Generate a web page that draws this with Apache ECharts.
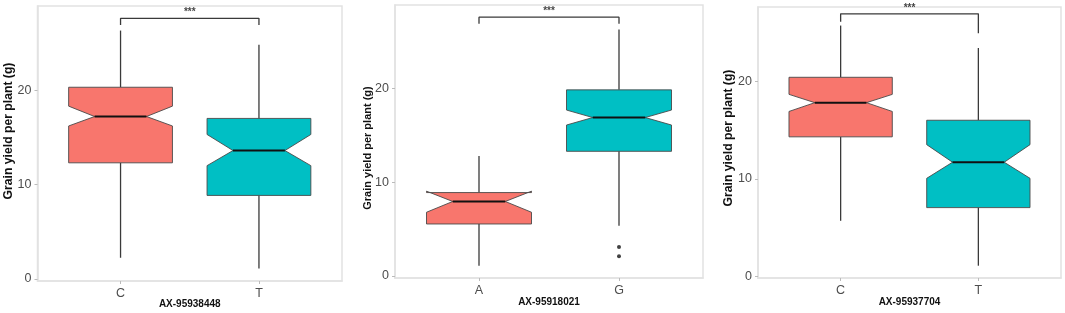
<!DOCTYPE html>
<html><head><meta charset="utf-8">
<script src="https://cdn.jsdelivr.net/npm/echarts@6.0.0/dist/echarts.min.js"></script>
<style>html,body{margin:0;padding:0;background:#fff}#c{width:1065px;height:313px}</style>
</head><body><div id="c"></div>
<script>
// ---------- DATA ----------
const yTicks = [0, 10, 20];
const yTitle = 'Grain yield per plant (g)';

// Panel 1
const p1Cats = ['C', 'T'];
const p1WhiskerLow = [2.25, 1.1];
const p1Q1 = [12.3, 8.85];
const p1NotchLow = [16.2, 12.0];
const p1Median = [17.2, 13.6];
const p1NotchHigh = [18.3, 15.3];
const p1Q3 = [20.3, 17.0];
const p1WhiskerHigh = [26.3, 24.8];
const p1Outliers = [[], []];
const p1Marker = 'AX-95938448';
const p1Bracket = [26.9, 27.6, 26.9];
const p1Sig = '***';

// Panel 2
const p2Cats = ['A', 'G'];
const p2WhiskerLow = [1.1, 5.35];
const p2Q1 = [5.55, 13.3];
const p2NotchLow = [6.8, 16.1];
const p2Median = [7.95, 16.9];
const p2NotchHigh = [9.05, 17.7];
const p2Q3 = [8.9, 19.85];
const p2WhiskerHigh = [12.8, 26.3];
const p2Outliers = [[], [3.1, 2.1]];
const p2Marker = 'AX-95918021';
const p2Bracket = [26.9, 27.6, 26.9];
const p2Sig = '***';

// Panel 3
const p3Cats = ['C', 'T'];
const p3WhiskerLow = [5.7, 1.1];
const p3Q1 = [14.3, 7.05];
const p3NotchLow = [16.9, 10.05];
const p3Median = [17.8, 11.7];
const p3NotchHigh = [18.65, 13.5];
const p3Q3 = [20.4, 16.0];
const p3WhiskerHigh = [25.7, 23.4];
const p3Outliers = [[], []];
const p3Marker = 'AX-95937704';
const p3Bracket = [26.1, 26.9, 24.9];
const p3Sig = '***';

// ---------- LAYOUT / STYLE ----------
const fillColors = ['#F8766D', '#00BFC4'];
const panels = [
  {cats: p1Cats, wl: p1WhiskerLow, q1: p1Q1, nl: p1NotchLow, md: p1Median, nh: p1NotchHigh, q3: p1Q3, wh: p1WhiskerHigh, out: p1Outliers, marker: p1Marker, br: p1Bracket, sig: p1Sig,
   grid: {left: 37.5, top: 6, width: 304.5, height: 275}, ymin: -0.21, ymax: 28.9,
   yt: {x: 9, y: 131, size: 12.2}, xt: {y: 304}},
  {cats: p2Cats, wl: p2WhiskerLow, q1: p2Q1, nl: p2NotchLow, md: p2Median, nh: p2NotchHigh, q3: p2Q3, wh: p2WhiskerHigh, out: p2Outliers, marker: p2Marker, br: p2Bracket, sig: p2Sig,
   grid: {left: 395, top: 5, width: 308, height: 273}, ymin: -0.21, ymax: 28.9,
   yt: {x: 368, y: 148, size: 11}, xt: {y: 302}},
  {cats: p3Cats, wl: p3WhiskerLow, q1: p3Q1, nl: p3NotchLow, md: p3Median, nh: p3NotchHigh, q3: p3Q3, wh: p3WhiskerHigh, out: p3Outliers, marker: p3Marker, br: p3Bracket, sig: p3Sig,
   grid: {left: 758, top: 7, width: 303, height: 271}, ymin: -0.16, ymax: 27.6,
   yt: {x: 729, y: 138, size: 12.2}, xt: {y: 302}}
];

const tickFont = '"Liberation Sans Narrow", "Liberation Sans", Arial, sans-serif';
const boldFont = 'Arial, "Liberation Sans", sans-serif';
const borderCol = '#e2e2e2';
const inkCol = '#3a3a3a';

function boxRender(params, api) {
  const x = api.value(0);
  const wl = api.value(1), q1 = api.value(2), nl = api.value(3), md = api.value(4),
        nh = api.value(5), q3 = api.value(6), wh = api.value(7);
  const hw = 0.375, nin = 0.1875;
  const P = (xx, yy) => api.coord([xx, yy]);
  const c = P(x, 0)[0];
  const poly = [
    P(x - hw, q3), P(x - hw, nh), P(x - hw + nin, md), P(x - hw, nl), P(x - hw, q1),
    P(x + hw, q1), P(x + hw, nl), P(x + hw - nin, md), P(x + hw, nh), P(x + hw, q3)
  ];
  const col = fillColors[params.dataIndex % fillColors.length];
  return {
    type: 'group',
    children: [
      {type: 'line', shape: {x1: c, y1: P(x, q3)[1], x2: c, y2: P(x, wh)[1]}, style: {stroke: inkCol, lineWidth: 1.3}},
      {type: 'line', shape: {x1: c, y1: P(x, q1)[1], x2: c, y2: P(x, wl)[1]}, style: {stroke: inkCol, lineWidth: 1.3}},
      {type: 'polygon', shape: {points: poly}, style: {fill: col, stroke: '#4a4a4a', lineWidth: 0.9}},
      {type: 'line', shape: {x1: P(x - hw + nin, md)[0], y1: P(x, md)[1], x2: P(x + hw - nin, md)[0], y2: P(x, md)[1]}, style: {stroke: '#111', lineWidth: 2}}
    ]
  };
}

const grids = [], xAxes = [], yAxes = [], series = [], graphics = [];
panels.forEach((p, i) => {
  grids.push(Object.assign({show: true, borderColor: borderCol, borderWidth: 1.5, backgroundColor: '#fff'}, p.grid));
  xAxes.push({
    gridIndex: i, type: 'value', min: 0.4, max: 2.6,
    axisLine: {show: true, onZero: false, lineStyle: {color: borderCol, width: 1.5}},
    axisTick: {show: true, customValues: [1, 2], length: 3, lineStyle: {color: '#bbb'}},
    axisLabel: {customValues: [1, 2], formatter: v => p.cats[Math.round(v) - 1], color: '#4d4d4d', fontSize: 12.5, fontFamily: tickFont, margin: 6},
    splitLine: {show: false}
  });
  yAxes.push({
    gridIndex: i, type: 'value', min: p.ymin, max: p.ymax,
    axisLine: {show: true, onZero: false, lineStyle: {color: borderCol, width: 1.5}},
    axisTick: {show: true, customValues: yTicks, length: 3, lineStyle: {color: '#bbb'}},
    axisLabel: {customValues: yTicks, color: '#4d4d4d', fontSize: 12.5, fontFamily: tickFont, margin: 6},
    splitLine: {show: false}
  });
  const data = p.cats.map((c, k) => [k + 1, p.wl[k], p.q1[k], p.nl[k], p.md[k], p.nh[k], p.q3[k], p.wh[k]]);
  series.push({type: 'custom', xAxisIndex: i, yAxisIndex: i, renderItem: boxRender, data: data, clip: false, silent: true,
    encode: {x: 0, y: [1, 2, 3, 4, 5, 6, 7]}});
  const outData = [];
  p.out.forEach((arr, k) => arr.forEach(v => outData.push([k + 1, v])));
  series.push({type: 'scatter', xAxisIndex: i, yAxisIndex: i, data: outData, symbolSize: 4, itemStyle: {color: '#111'}, silent: true});
  series.push({type: 'line', xAxisIndex: i, yAxisIndex: i, data: [[1, p.br[0]], [1, p.br[1]], [2, p.br[1]], [2, p.br[2]]],
    symbol: 'none', lineStyle: {color: inkCol, width: 1.3}, silent: true, clip: false});
  series.push({type: 'scatter', xAxisIndex: i, yAxisIndex: i, data: [[1.5, p.br[1]]], symbolSize: 0, silent: true, clip: false,
    label: {show: true, formatter: p.sig, position: 'top', distance: 1, fontSize: 10, fontWeight: 'bold', color: '#111', fontFamily: boldFont}});
  graphics.push({type: 'text', x: p.yt.x, y: p.yt.y, rotation: Math.PI / 2,
    style: {text: yTitle, font: 'bold ' + p.yt.size + 'px ' + boldFont, fill: '#111', align: 'center', verticalAlign: 'middle'}});
  graphics.push({type: 'text', x: p.grid.left + p.grid.width / 2, y: p.xt.y,
    style: {text: p.marker, font: 'bold 10px ' + tickFont, fill: '#111', align: 'center', verticalAlign: 'middle'}});
});

const chart = echarts.init(document.getElementById('c'), null, {renderer: 'canvas'});
chart.setOption({animation: false, backgroundColor: '#fff', grid: grids, xAxis: xAxes, yAxis: yAxes, series: series, graphic: graphics});
</script></body></html>
